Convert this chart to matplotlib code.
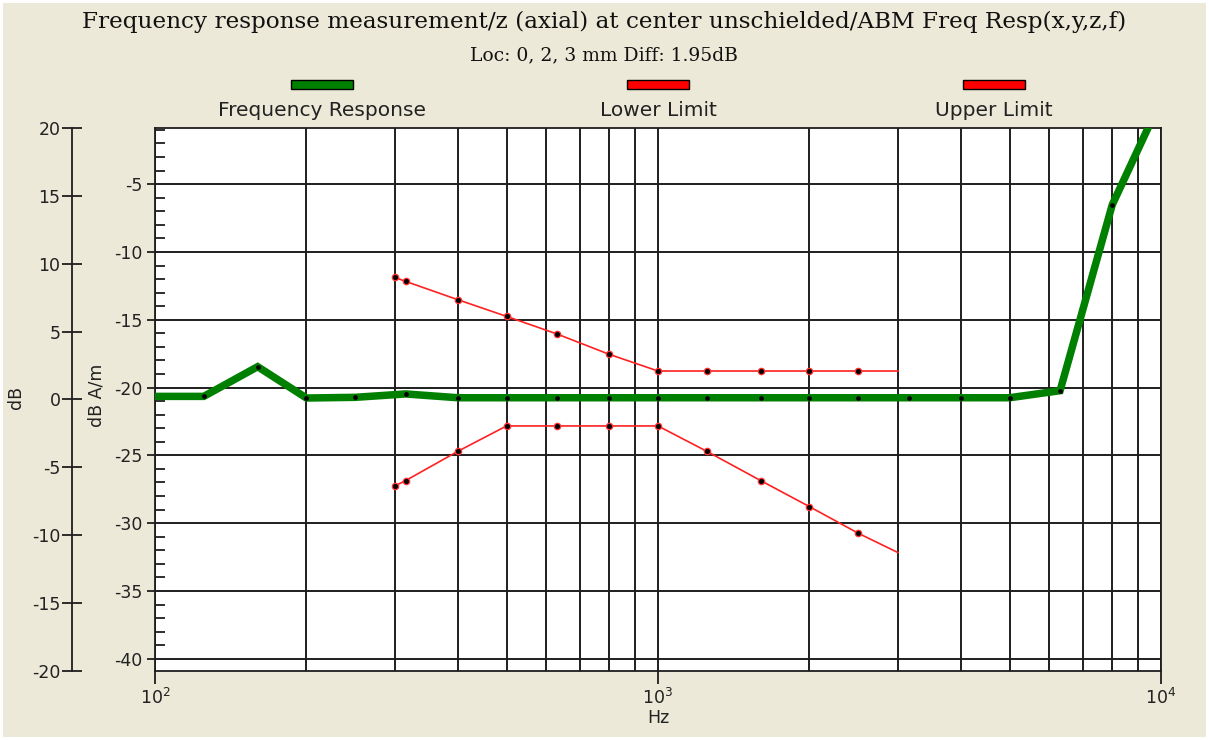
import matplotlib
matplotlib.use("Agg")
import matplotlib.pyplot as plt
from matplotlib.ticker import MultipleLocator, FixedLocator, NullFormatter
from matplotlib.patches import Rectangle

# ---------------- data ----------------
title = "Frequency response measurement/z (axial) at center unschielded/ABM Freq Resp(x,y,z,f)"
subtitle = "Loc: 0, 2, 3 mm Diff: 1.95dB"
series_names = ["Frequency Response", "Lower Limit", "Upper Limit"]

resp_hz = [100, 125, 160, 200, 250, 315, 400, 500, 630, 800, 1000, 1250, 1600,
           2000, 2500, 3150, 4000, 5000, 6300, 8000, 10000]
resp_db = [-20.65, -20.65, -18.46, -20.77, -20.72, -20.47, -20.75, -20.75, -20.75,
           -20.75, -20.75, -20.75, -20.75, -20.75, -20.75, -20.75, -20.75, -20.75,
           -20.23, -6.52, 1.2]

limit_hz = [300, 315, 400, 500, 630, 800, 1000, 1250, 1600, 2000, 2500, 3000]
upper_db = [-11.88, -12.17, -13.52, -14.75, -16.05, -17.55, -18.78, -18.78, -18.78,
            -18.78, -18.78, -18.78]
lower_db = [-27.25, -26.86, -24.70, -22.83, -22.83, -22.83, -22.83, -24.70, -26.86,
            -28.78, -30.74, -32.17]

inner_ticks = [-40, -35, -30, -25, -20, -15, -10, -5]
outer_ticks = [-20, -15, -10, -5, 0, 5, 10, 15, 20]
x_ticks = [100, 1000, 10000]
x_ticklabels = ["$10^{2}$", "$10^{3}$", "$10^{4}$"]

# ---------------- style ----------------
BG = "#ECE9D8"
GRID = "#1e1e1e"
plt.rcParams["axes.unicode_minus"] = False
plt.rcParams["font.family"] = ["DejaVu Sans"]
TICKFS = 12.5

W, H = 1209, 740
fig = plt.figure(figsize=(W / 100, H / 100), dpi=100)
fig.patch.set_facecolor(BG)

def fx(px):
    return px / W

def fy(py):
    return 1 - py / H

left, right, top, bottom = 155, 1161, 128.3, 670.7
ax = fig.add_axes([fx(left), fy(bottom), fx(right - left), (bottom - top) / H])
ax.set_facecolor("white")
ax.set_xscale("log")
ax.set_xlim(100, 10000)
ax.set_ylim(-40.88, -0.88)

for s in ax.spines.values():
    s.set_color(GRID)
    s.set_linewidth(1.3)

ax.xaxis.set_major_locator(FixedLocator(x_ticks))
ax.set_xticklabels(x_ticklabels)
ax.xaxis.set_minor_formatter(NullFormatter())
ax.tick_params(axis="x", which="major", direction="out", length=9.5, width=1.3,
               color=GRID, labelsize=TICKFS, labelcolor="#222222", pad=3)
ax.tick_params(axis="x", which="minor", length=0)

ax.yaxis.set_major_locator(FixedLocator(inner_ticks))
ax.yaxis.set_minor_locator(MultipleLocator(1))
ax.tick_params(axis="y", which="major", direction="out", length=6, width=1.3,
               color=GRID, labelsize=TICKFS, labelcolor="#222222", pad=3)
ax.tick_params(axis="y", which="minor", direction="in", length=7, width=1.3,
               color=GRID)

ax.grid(True, which="major", axis="both", color=GRID, lw=1.4)
ax.grid(True, which="minor", axis="x", color=GRID, lw=1.4)
ax.set_axisbelow(True)

# frequency response
ax.plot(resp_hz, resp_db, color="#008000", lw=5.4, solid_joinstyle="miter",
        zorder=3)
ax.plot(resp_hz[1:-1], resp_db[1:-1], ls="none", marker="o", ms=2.4,
        color="black", zorder=4)

# limits
for vals in (lower_db, upper_db):
    ax.plot(limit_hz, vals, color="#FF2020", lw=1.2, zorder=3)
    ax.plot(limit_hz[:-1], vals[:-1], ls="none", marker="o", ms=5.5,
            color="#FF3030", mec="none", zorder=4)
    ax.plot(limit_hz[:-1], vals[:-1], ls="none", marker="o", ms=2.6,
            color="black", zorder=5)

# outer dB axis
ax2 = fig.add_axes([fx(72), fy(bottom), 0.0001, (bottom - top) / H])
ax2.set_facecolor("none")
ax2.set_ylim(-20, 20)
for k in ("top", "right", "bottom"):
    ax2.spines[k].set_visible(False)
ax2.spines["left"].set_color(GRID)
ax2.spines["left"].set_linewidth(1.3)
ax2.set_xticks([])
ax2.yaxis.set_major_locator(FixedLocator(outer_ticks))
ax2.tick_params(axis="y", direction="inout", length=14.4, width=1.3, color=GRID,
                labelsize=TICKFS, labelcolor="#222222", pad=1)

# axis labels
fig.text(fx(658), fy(718), "Hz", ha="center", va="center", fontsize=TICKFS,
         color="#222222")
fig.text(fx(16), fy(397), "dB", ha="center", va="center", rotation=90,
         fontsize=TICKFS, color="#222222")
fig.text(fx(97), fy(395), "dB A/m", ha="center", va="center", rotation=90,
         fontsize=TICKFS, color="#222222")

# titles
fig.text(fx(604), fy(22), title, ha="center", va="center", fontsize=16.7,
         family="DejaVu Serif", color="#111111")
fig.text(fx(604), fy(55), subtitle, ha="center", va="center", fontsize=13.5,
         family="DejaVu Serif", color="#111111")

# legend (patches above labels)
leg_colors = ["#008000", "#FF0000", "#FF0000"]
leg_centers = [322, 658, 994]
for name, c, cx in zip(series_names, leg_colors, leg_centers):
    fig.patches.append(Rectangle((fx(cx - 31), fy(89)), fx(62), 9 / H,
                                 transform=fig.transFigure, facecolor=c,
                                 edgecolor="black", lw=1.0))
    fig.text(fx(cx), fy(111), name, ha="center", va="center", fontsize=14.5,
             color="#222222")

fig.patch.set_edgecolor("white")
fig.patch.set_linewidth(3)

fig.savefig("out.png", dpi=100, facecolor=fig.get_facecolor(),
            edgecolor=fig.get_edgecolor())
